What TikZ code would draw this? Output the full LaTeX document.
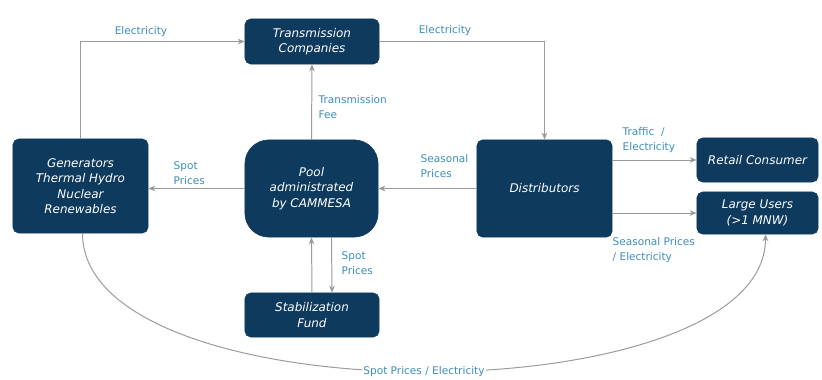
\documentclass[tikz,border=0pt]{standalone}
\usepackage{fontspec}
\setmainfont{DejaVu Sans}
\usetikzlibrary{arrows.meta}
\definecolor{navy}{HTML}{0E3A5E}
\definecolor{flowtext}{HTML}{3C8DBC}
\definecolor{flowline}{HTML}{9A9A9A}
\begin{document}
\begin{tikzpicture}[x=0.025cm, y=-0.025cm, >={Stealth[length=5pt,width=4pt]},
        box/.style={draw=navy, fill=navy, rounded corners=4pt, text=white, align=center,
            font=\fontsize{8.5}{11}\selectfont\itshape, inner sep=2pt},
        flow/.style={draw=flowline, line width=0.7pt, ->},
        lbl/.style={text=flowtext, align=left, inner sep=1pt,
            font=\fontsize{7.5}{10.5}\selectfont}]
        \useasboundingbox (0,0) rectangle (822,380);
        % Market actors
        \node[box, minimum width=3.35cm, minimum height=1.125cm] (trans) at (312,41.5) {Transmission\\Companies};
        \node[box, minimum width=3.375cm, minimum height=2.35cm] (gen) at (80.5,186) {Generators\\Thermal Hydro\\Nuclear\\Renewables};
        \node[box, rounded corners=0.6cm, minimum width=3.33cm, minimum height=2.43cm] (pool) at (311.5,188.5) {Pool\\administrated\\by CAMMESA};
        \node[box, minimum width=3.375cm, minimum height=2.43cm] (dist) at (544.5,188.5) {Distributors};
        \node[box, minimum width=3.03cm, minimum height=1.1cm] (retail) at (757.5,160) {Retail Consumer};
        \node[box, minimum width=3.03cm, minimum height=1.05cm] (large) at (757.5,213) {Large Users\\(>1 MNW)};
        \node[box, minimum width=3.35cm, minimum height=1.1cm] (fund) at (312,315) {Stabilization\\Fund};
        % Flows
        \draw[flow] (gen.north) |- (trans.west);
        \draw[flow] (trans.east) -| (dist.north);
        \draw[flow] (pool.north) -- (trans.south);
        \draw[flow] (pool.west) -- (pool.west -| gen.east);
        \draw[flow] (dist.west) -- (pool.east);
        \draw[flow] (fund.north) -- (pool.south);
        \draw[flow] ([xshift=0.5cm]pool.south) -- ([xshift=0.5cm]fund.north);
        \draw[flow] (dist.east |- retail) -- (retail.west);
        \draw[flow] (dist.east |- large) -- (large.west);
        \draw[flow] ([xshift=0.05cm]gen.south) .. controls +(0,185) and +(0,182) .. ([xshift=0.2cm]large.south)
            node[lbl, fill=white, pos=0.5] (lspot) {Spot Prices / Electricity};
        % Flow labels
        \node[lbl] (lelec1) at (141,32) {Electricity};
        \node[lbl] (lelec2) at (445,31) {Electricity};
        \node[lbl, anchor=west] (lfee) at (317,107) {Transmission\\Fee};
        \node[lbl, anchor=west] (lspotgen) at (172,173) {Spot\\Prices};
        \node[lbl, anchor=west] (lseas) at (419,166) {Seasonal\\Prices};
        \node[lbl, anchor=west] (lspotfund) at (340,263) {Spot\\Prices};
        \node[lbl, anchor=west] (ltraffic) at (621,140) {Traffic~~/\\Electricity};
        \node[lbl, anchor=west] (lseaselec) at (611,250) {Seasonal Prices\\/ Electricity};
    \end{tikzpicture}
\end{document}
